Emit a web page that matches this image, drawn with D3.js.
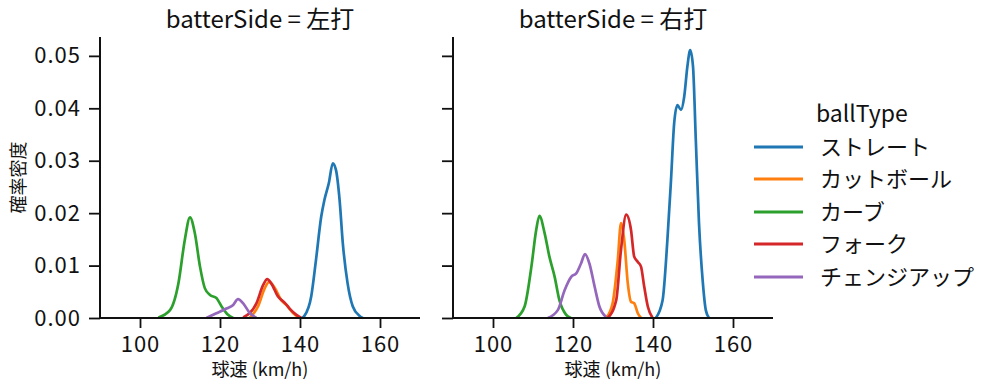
<!DOCTYPE html>
<html>
<head>
<meta charset="utf-8">
<script src="https://cdn.jsdelivr.net/npm/d3@7"></script>
<style>
  body { margin: 0; background: #fff; }
  text { font-family: "Noto Sans CJK JP", "Noto Sans", sans-serif; fill: #111; }
</style>
</head>
<body>
<div id="chart"></div>
<script>
// facet and series names
var panels = ['左打', '右打'];
var ballTypes = ['ストレート', 'カットボール', 'カーブ', 'フォーク', 'チェンジアップ'];
var colors = ['#1f77b4', '#ff7f0e', '#2ca02c', '#d62728', '#9467bd'];
var xTicks = [100, 120, 140, 160];
var yTicks = [0, 0.01, 0.02, 0.03, 0.04, 0.05];

// density curves: [speed, density]
var leftStraight = [[140.5,0],[141.1,0.0004],[142.8,0.0041],[144.0,0.0111],[145.3,0.0193],[146.1,0.0225],[147.2,0.0257],[148.2,0.0295],[149.0,0.0282],[149.9,0.0225],[150.7,0.0143],[151.9,0.0066],[153.2,0.0022],[154.9,0.0004],[155.7,0]];
var leftCutter = [[127.4,0],[129.5,0.0022],[131.2,0.0057],[132.3,0.0069],[133.7,0.0057],[135.3,0.0034],[136.6,0.0025],[138.2,0.0010],[139.9,0]];
var leftCurve = [[104.6,0.0001],[107.5,0.0015],[109.6,0.0066],[111.2,0.0149],[112.5,0.0192],[113.7,0.0162],[115.0,0.0098],[116.2,0.0057],[117.5,0.0044],[119.1,0.0038],[120.4,0.0022],[122.0,0.0006],[123.3,0]];
var leftFork = [[125.8,0.0001],[129.1,0.0028],[130.8,0.0063],[131.8,0.0074],[132.8,0.0066],[134.5,0.0041],[136.2,0.0029],[137.4,0.0018],[139.1,0.0006],[140.3,0]];
var leftChange = [[116.6,0],[119.1,0.0009],[121.6,0.0018],[123.3,0.0025],[124.5,0.0036],[125.8,0.0028],[127.4,0.0010],[129.1,0]];

var rightStraight = [[140.7,0],[142.4,0.0034],[143.6,0.0149],[144.5,0.0263],[145.3,0.0372],[146.1,0.0406],[147.0,0.0397],[147.8,0.0422],[148.6,0.0480],[149.3,0.0511],[150.0,0.0480],[150.7,0.0340],[151.5,0.0181],[152.4,0.0073],[153.2,0.0015],[154.0,0]];
var rightCutter = [[128.3,0],[129.9,0.0028],[131.2,0.0111],[132.0,0.0181],[132.8,0.0149],[133.7,0.0066],[134.5,0.0031],[135.3,0.0028],[136.2,0.0009],[137.0,0]];
var rightCurve = [[105.8,0],[107.9,0.0022],[109.6,0.0098],[110.8,0.0168],[111.6,0.0195],[112.9,0.0162],[114.1,0.0117],[115.4,0.0079],[116.6,0.0034],[118.3,0.0006],[119.5,0]];
var rightFork = [[128.7,0],[130.8,0.0034],[132.0,0.0130],[133.3,0.0197],[134.5,0.0168],[135.3,0.0117],[136.2,0.0107],[137.0,0.0098],[137.8,0.0060],[138.7,0.0022],[139.9,0]];
var rightChange = [[113.7,0],[116.2,0.0015],[117.9,0.0053],[119.6,0.0079],[120.8,0.0085],[122.0,0.0104],[123.0,0.0122],[124.1,0.0104],[125.4,0.0060],[126.6,0.0022],[128.3,0.0002]];

var panelSeries = [
    [leftStraight, leftCutter, leftCurve, leftFork, leftChange],
    [rightStraight, rightCutter, rightCurve, rightFork, rightChange]
];

var W = 999, H = 391;
var panelLeft = [100, 453], panelW = 320;
var plotTop = 37, plotBottom = 318;

var svg = d3.select('#chart').append('svg')
    .attr('width', W)
    .attr('height', H);

var y = d3.scaleLinear().domain([0, 0.0536]).range([plotBottom, plotTop]);

panels.forEach(function (side, p) {
    var x = d3.scaleLinear().domain([90, 170]).range([0, panelW]);
    var g = svg.append('g').attr('transform', 'translate(' + panelLeft[p] + ',0)');

    var line = d3.line()
        .x(function (d) { return x(d[0]); })
        .y(function (d) { return y(d[1]); })
        .curve(d3.curveMonotoneX);

    panelSeries[p].forEach(function (s, i) {
        g.append('path')
            .datum(s)
            .attr('d', line)
            .attr('fill', 'none')
            .attr('stroke', colors[i])
            .attr('stroke-width', 2.7)
            .attr('stroke-linejoin', 'round');
    });

    var xAxis = g.append('g')
        .attr('transform', 'translate(0,' + plotBottom + ')')
        .call(d3.axisBottom(x).tickValues(xTicks).tickSize(10).tickPadding(8));
    var yAxis = g.append('g')
        .call(d3.axisLeft(y).tickValues(yTicks).tickSize(11).tickPadding(8)
            .tickFormat(p === 0 ? d3.format('.2f') : function () { return ''; }));

    [xAxis, yAxis].forEach(function (a) {
        a.select('.domain').attr('stroke', '#111').attr('stroke-width', 2)
            .attr('d', a === xAxis ? 'M0,0H' + panelW : 'M0,' + plotTop + 'V' + plotBottom);
        a.selectAll('.tick line').attr('stroke', '#111').attr('stroke-width', 1.8);
        a.selectAll('.tick text').attr('font-size', 22).attr('fill', '#111')
            .attr('letter-spacing', 1)
            .style('font-family', '"Noto Sans CJK JP", sans-serif');
    });

    g.append('text')
        .attr('x', panelW / 2)
        .attr('y', 28)
        .attr('text-anchor', 'middle')
        .attr('font-size', 24)
        .text('batterSide = ' + side);

    g.append('text')
        .attr('x', panelW / 2)
        .attr('y', 376)
        .attr('text-anchor', 'middle')
        .attr('font-size', 18)
        .text('球速 (km/h)');
});

svg.append('text')
    .attr('transform', 'translate(25,' + ((plotTop + plotBottom) / 2) + ') rotate(-90)')
    .attr('text-anchor', 'middle')
    .attr('font-size', 18)
    .text('確率密度');

// legend
var leg = svg.append('g').attr('transform', 'translate(754,0)');
leg.append('text')
    .attr('x', 62)
    .attr('y', 122)
    .attr('font-size', 23)
    .text('ballType');

var legY = [147, 179, 212, 244, 277];
ballTypes.forEach(function (name, i) {
    leg.append('line')
        .attr('x1', 0).attr('x2', 49)
        .attr('y1', legY[i]).attr('y2', legY[i])
        .attr('stroke', colors[i])
        .attr('stroke-width', 2.8);
    leg.append('text')
        .attr('x', 66)
        .attr('y', legY[i] + 8)
        .attr('font-size', 22)
        .text(name);
});
</script>
</body>
</html>
